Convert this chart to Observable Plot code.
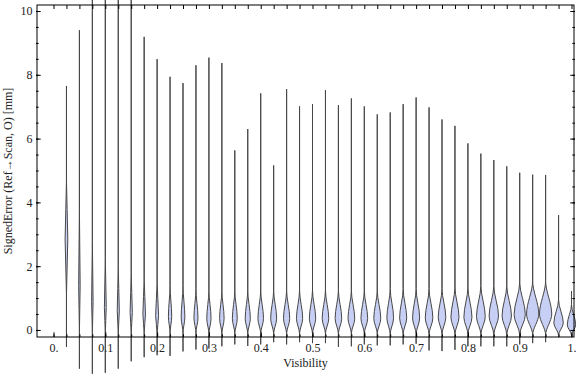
<!DOCTYPE html>
<html><head><meta charset="utf-8">
<script src="https://cdn.jsdelivr.net/npm/d3@7"></script>
<script src="https://cdn.jsdelivr.net/npm/@observablehq/plot@0.6"></script>
<style>body{margin:0;background:#fff}</style>
</head><body><div id="chart"></div>
<script>
// Violin positions (Visibility bins)
const visibility = [0.025,0.05,0.075,0.1,0.125,0.15,0.175,0.2,0.225,0.25,0.275,0.3,0.325,0.35,0.375,0.4,0.425,0.45,0.475,0.5,0.525,0.55,0.575,0.6,0.625,0.65,0.675,0.7,0.725,0.75,0.775,0.8,0.825,0.85,0.875,0.9,0.925,0.95,0.975,1.0];
// Largest signed error in each bin [mm]
const maxError = [7.65,9.40,12.0,12.5,12.0,11.5,9.19,8.49,7.94,7.74,8.30,8.54,8.37,5.63,6.30,7.42,5.16,7.55,7.01,7.08,7.52,7.05,7.26,7.01,6.76,6.82,7.08,7.29,6.98,6.60,6.40,5.85,5.53,5.33,5.13,4.93,4.87,4.86,3.60,1.22];
// Smallest signed error in each bin [mm]
const minError = [-0.52,-1.20,-1.36,-1.33,-1.20,-0.97,-0.84,-0.78,-0.80,-0.66,-0.60,-0.57,-0.50,-0.44,-0.49,-0.44,-0.37,-0.44,-0.37,-0.40,-0.40,-0.52,-0.50,-0.44,-0.47,-0.47,-0.44,-0.42,-0.63,-0.65,-0.61,-0.50,-0.50,-0.50,-0.50,-0.44,-0.40,-0.37,-0.21,-0.21];
// Where the density body starts, peaks and fades out [mm]
const bodyLow = [1.1,-0.1,-0.1,-0.1,-0.1,-0.1,-0.1,-0.1,-0.1,-0.1,-0.1,-0.12,-0.12,-0.12,-0.12,-0.12,-0.12,-0.12,-0.12,-0.12,-0.12,-0.12,-0.12,-0.12,-0.12,-0.14,-0.14,-0.14,-0.14,-0.14,-0.14,-0.14,-0.14,-0.15,-0.15,-0.16,-0.16,-0.16,-0.17,-0.17];
const modeError = [2.85,1.4,0.9,0.7,0.6,0.55,0.5,0.45,0.42,0.4,0.38,0.36,0.36,0.36,0.36,0.36,0.36,0.36,0.36,0.36,0.36,0.36,0.36,0.36,0.36,0.38,0.38,0.38,0.38,0.4,0.4,0.4,0.42,0.44,0.44,0.48,0.5,0.5,0.22,0.16];
const bodyHigh = [4.7,3.8,2.8,2.3,2.0,1.8,1.6,1.5,1.4,1.4,1.3,1.25,1.25,1.25,1.25,1.25,1.25,1.25,1.25,1.25,1.25,1.25,1.25,1.25,1.25,1.3,1.3,1.3,1.3,1.3,1.35,1.35,1.4,1.4,1.4,1.5,1.55,1.55,0.95,0.8];
// Relative peak density of each bin
const peakDensity = [0.22,0.12,0.12,0.15,0.17,0.18,0.21,0.24,0.27,0.30,0.33,0.35,0.37,0.40,0.42,0.46,0.49,0.51,0.51,0.52,0.54,0.54,0.55,0.55,0.57,0.55,0.58,0.58,0.62,0.62,0.66,0.66,0.72,0.77,0.77,0.92,1.0,1.0,0.77,0.69];

const xTicks = [0,0.1,0.2,0.3,0.4,0.5,0.6,0.7,0.8,0.9,1];
const xTickLabels = ["0.","0.1","0.2","0.3","0.4","0.5","0.6","0.7","0.8","0.9","1."];
const xMinorTicks = [0].concat(visibility);
const yTicks = [0,2,4,6,8,10];
const yTickLabels = ["0","2","4","6","8","10"];
const yMinorTicks = d3.range(0, 10.01, 0.5);

const rows = [];
visibility.forEach((v, i) => {
  const prof = [[minError[i],0],[bodyLow[i],0],[modeError[i],peakDensity[i]],[bodyHigh[i],0],[maxError[i],0]];
  for (const [y, d] of prof) rows.push({v, y, d});
});
const halfSlot = 0.0118;

const chart = Plot.plot({
  width: 576, height: 377,
  marginLeft: 36, marginRight: 2, marginTop: 4, marginBottom: 40,
  style: {fontFamily: "'Liberation Serif', 'Times New Roman', serif", fontSize: "12px", color: "#000", background: "#fff"},
  x: {domain: [-0.0338, 1.0048]},
  y: {domain: [-0.22, 10.22]},
  marks: [
    Plot.areaX(rows, {y: "y", x1: d => d.v - d.d * halfSlot, x2: d => d.v + d.d * halfSlot, z: "v",
      curve: "monotone-y", fill: "#c8cff5", stroke: "#474747", strokeWidth: 1}),
    Plot.frame({stroke: "#000", inset: 0.5}),
    Plot.axisX({anchor: "bottom", ticks: xMinorTicks, tickSize: -2.7, tickFormat: () => "", label: null}),
    Plot.axisX({anchor: "bottom", ticks: xTicks, tickSize: -4.7, tickFormat: () => "", label: null}),
    Plot.axisX({anchor: "top", ticks: xMinorTicks, tickSize: -4, tickFormat: () => "", label: null}),
    Plot.axisX({anchor: "bottom", ticks: xTicks, tickSize: 0, tickPadding: 6,
      tickFormat: d => xTickLabels[xTicks.indexOf(d)], fill: "#222",
      label: "Visibility", labelAnchor: "center", labelOffset: 29, labelArrow: "none"}),
    Plot.axisY({anchor: "left", ticks: yMinorTicks, tickSize: -2.7, tickFormat: () => "", label: null}),
    Plot.axisY({anchor: "left", ticks: yTicks, tickSize: -4.7, tickFormat: () => "", label: null}),
    Plot.axisY({anchor: "right", ticks: yMinorTicks, tickSize: -2.7, tickFormat: () => "", label: null}),
    Plot.axisY({anchor: "right", ticks: yTicks, tickSize: -4.7, tickFormat: () => "", label: null}),
    Plot.axisY({anchor: "left", ticks: yTicks, tickSize: 0, tickPadding: 4,
      tickFormat: d => yTickLabels[yTicks.indexOf(d)], fill: "#222",
      label: "SignedError (Ref\u2192Scan, O) [mm]", labelAnchor: "center", labelOffset: 33, labelArrow: "none"})
  ]
});
document.getElementById("chart").appendChild(chart);
</script>
</body></html>
